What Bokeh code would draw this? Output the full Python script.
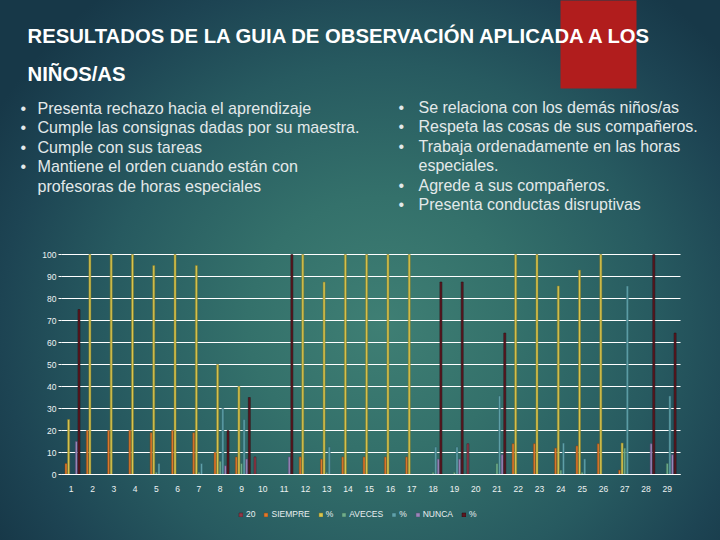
from bokeh.plotting import figure
from bokeh.models import (Legend, LegendItem, ColumnDataSource, FixedTicker, Range1d,
                          LinearAxis, GlobalInlineStyleSheet)
from bokeh.transform import dodge
from bokeh.embed import file_html
from bokeh.resources import INLINE
from bokeh.core.properties import value

# ---------------- data ----------------
categorias = list(range(1, 30))
tick_labels = [str(c) for c in categorias]
y_ticks = list(range(0, 101, 10))

serie_20 = [0, 0, 0, 0, 0, 0, 0, 0, 0, 8, 0, 0, 0, 0, 0, 0, 0, 0, 0, 14,
            0, 0, 0, 0, 0, 0, 0, 0, 0]
siempre = [5, 20, 20, 20, 19, 20, 19, 10, 8, 0, 0, 8, 7, 8, 8, 8, 8, 0, 0, 0,
           0, 14, 14, 12, 13, 14, 2, 0, 0]
siempre_pct = [25, 100, 100, 100, 95, 100, 95, 50, 40, 0, 0, 100, 87.5, 100, 100,
               100, 100, 0, 0, 0, 0, 100, 100, 85.7, 92.9, 100, 14.3, 0, 0]
aveces = [0, 0, 0, 0, 1, 0, 1, 6, 5, 0, 0, 0, 1, 0, 0, 0, 0, 1, 1, 0,
          5, 0, 0, 2, 1, 0, 12, 0, 5]
aveces_pct = [0, 0, 0, 0, 5, 0, 5, 30, 25, 0, 0, 0, 12.5, 0, 0, 0, 0, 12.5, 12.5, 0,
              35.7, 0, 0, 14.3, 7.1, 0, 85.7, 0, 35.7]
nunca = [15, 0, 0, 0, 0, 0, 0, 4, 7, 0, 8, 0, 0, 0, 0, 0, 0, 7, 7, 0,
         9, 0, 0, 0, 0, 0, 0, 14, 9]
nunca_pct = [75, 0, 0, 0, 0, 0, 0, 20, 35, 0, 100, 0, 0, 0, 0, 0, 0, 87.5, 87.5, 0,
             64.3, 0, 0, 0, 0, 0, 0, 100, 64.3]

series_keys = ["s20", "siempre", "siempre_pct", "aveces", "aveces_pct", "nunca", "nunca_pct"]
series_names = ["20", "SIEMPRE", "%", "AVECES", "%", "NUNCA", "%"]
series_colors = ["#8E3A48", "#E07A2C", "#D9C650", "#6FAE8C", "#5FA2AA", "#9A86BA", "#5C1821"]
series_edges = ["#4A1A22", "#7A4016", "#7E7424", "#3A6650", "#2F5E66", "#55486E", "#2A0A0F"]

titulo = ["RESULTADOS DE LA GUIA DE OBSERVACIÓN APLICADA A LOS", "NIÑOS/AS"]
items_izq = ["Presenta rechazo hacia el aprendizaje",
             "Cumple las consignas dadas por su maestra.",
             "Cumple con sus tareas",
             "Mantiene el orden cuando  están con",
             "profesoras de horas especiales"]
bullets_izq = [True, True, True, True, False]
items_der = ["Se relaciona con los demás niños/as",
             "Respeta las cosas de sus compañeros.",
             "Trabaja ordenadamente en las horas",
             "especiales.",
             "Agrede a sus compañeros.",
             "Presenta conductas disruptivas"]
bullets_der = [True, True, True, False, True, True]

# ---------------- layout geometry (pixels on the 720x540 slide) ----------------
W, H = 720, 540
PL, PR, PT, PB = 61, 680, 254, 474       # chart plot area
X0, X1 = 0.544, 29.62                    # category axis extent
Y0, Y1 = 0, 100
sx = (X1 - X0) / (PR - PL)
sy = (Y1 - Y0) / (PB - PT)
xr = Range1d(X0 - PL * sx, X1 + (W - PR) * sx)
yr = Range1d(Y0 - (H - PB) * sy, Y1 + PT * sy)

p = figure(width=W, height=H, x_range=xr, y_range=yr,
           output_backend="svg", toolbar_location=None,
           x_axis_location=None, y_axis_location=None, min_border=0,
           border_fill_color=None, background_fill_color=None, outline_line_color=None)
p.grid.visible = False
p.styles = {"background": "radial-gradient(ellipse 62% 78% at 53% 60%, #3f7f74 0%, #34716b 30%, #275a60 62%, #1d4453 85%, #173848 100%)"}
p.stylesheets = [GlobalInlineStyleSheet(css="html,body{background:#1c4453;}")]
p.extra_x_ranges = {"px": Range1d(0, W)}
p.extra_y_ranges = {"px": Range1d(H, 0)}

# red block behind the end of the title
p.quad(left=[560], right=[636], top=[-5], bottom=[88], fill_color="#B11D1D", line_color=None,
       x_range_name="px", y_range_name="px")

# ---------------- horizontal gridlines over the plot area ----------------
p.segment(x0=[X0] * len(y_ticks), x1=[X1] * len(y_ticks), y0=y_ticks, y1=y_ticks,
          line_color="#ffffff", line_width=1.2)

# ---------------- bars ----------------
src = ColumnDataSource(dict(cat=categorias, s20=serie_20, siempre=siempre,
                            siempre_pct=siempre_pct, aveces=aveces, aveces_pct=aveces_pct,
                            nunca=nunca, nunca_pct=nunca_pct))
renderers = []
for i, key in enumerate(series_keys):
    r = p.vbar(x=dodge("cat", (i - 3) * 0.122, range=p.x_range), top=key, width=0.095,
               source=src, fill_color=series_colors[i], line_color=series_edges[i],
               line_width=0.5)
    renderers.append(r)

# ---------------- axes (fixed inside the slide) ----------------
yax = LinearAxis(fixed_location=X0, bounds=(Y0, Y1), ticker=FixedTicker(ticks=y_ticks))
yax.axis_line_color = None
yax.major_tick_line_color = "#ffffff"
yax.major_tick_in = 0
yax.major_tick_out = 3
yax.minor_tick_line_color = None
yax.major_label_text_color = "#eef2f2"
yax.major_label_text_font = "Liberation Sans"
yax.major_label_text_font_size = "8.5px"
yax.major_label_standoff = 2
p.add_layout(yax, "left")

xax = LinearAxis(fixed_location=Y0, bounds=(X0, X1), ticker=FixedTicker(ticks=categorias))
xax.major_label_overrides = {c: t for c, t in zip(categorias, tick_labels)}
xax.axis_line_color = "#ffffff"
xax.axis_line_width = 1.2
xax.major_tick_line_color = None
xax.minor_tick_line_color = None
xax.major_label_text_color = "#eef2f2"
xax.major_label_text_font = "Liberation Sans"
xax.major_label_text_font_size = "8.5px"
xax.major_label_standoff = 5
p.add_layout(xax, "below")

# ---------------- slide title and bullet lists ----------------
p.text(x=[27, 27], y=[35, 73], text=titulo, text_font=value("Liberation Sans"),
       text_font_style="bold", text_font_size="20.3px", text_color="#ffffff",
       text_baseline="alphabetic", text_align="left", x_range_name="px", y_range_name="px")

def bullet_list(items, flags, bx, tx, size, base0, step):
    ys = [base0 + k * step for k in range(len(items))]
    p.text(x=[tx] * len(items), y=ys, text=items, text_font=value("Liberation Sans"),
           text_font_size=size, text_color="#e3e9ea", text_baseline="alphabetic",
           text_align="left", x_range_name="px", y_range_name="px")
    bys = [y for y, f in zip(ys, flags) if f]
    p.text(x=[bx] * len(bys), y=bys, text=["•"] * len(bys),
           text_font=value("Liberation Sans"), text_font_size=size,
           text_color="#e3e9ea", text_baseline="alphabetic", text_align="left",
           x_range_name="px", y_range_name="px")

bullet_list(items_izq, bullets_izq, 20, 37, "16.1px", 107, 19.5)
bullet_list(items_der, bullets_der, 398, 418, "16px", 107, 19.4)

# ---------------- legend ----------------
items = [LegendItem(label=series_names[i], renderers=[renderers[i]]) for i in range(7)]
legend = Legend(items=items, orientation="horizontal", location=(238, H - 519),
                background_fill_alpha=0, border_line_color=None,
                label_text_color="#e8eef0", label_text_font="Liberation Sans",
                label_text_font_size="8.5px", glyph_width=5, glyph_height=5,
                label_standoff=3, spacing=8, padding=0, margin=0, label_height=9,
                label_width=0)
p.add_layout(legend)

open("out.html", "w").write(file_html(p, INLINE))
